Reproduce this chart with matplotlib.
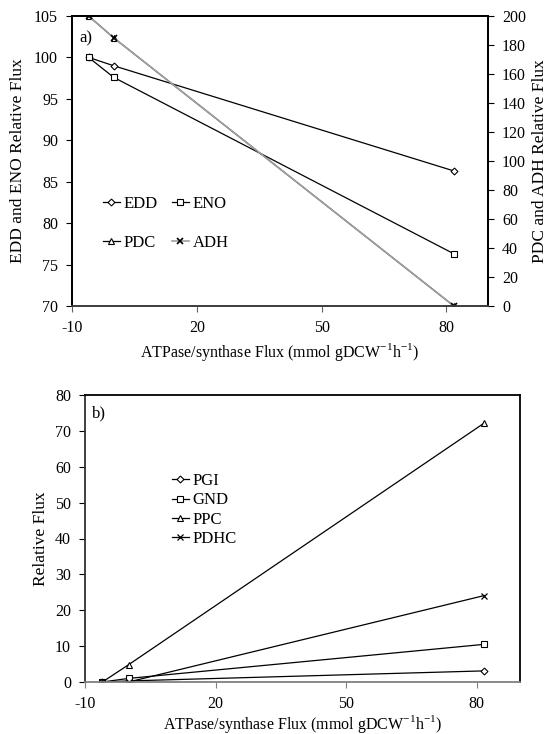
import matplotlib.pyplot as plt

plt.rcParams['font.family'] = ['Liberation Serif', 'DejaVu Serif']
plt.rcParams['font.size'] = 11.5
plt.rcParams['axes.unicode_minus'] = False

# ATPase/synthase flux (x values)
atp_flux = [-6, 0, 81.8]

# panel a
edd = [100, 99.0, 86.3]
eno = [100, 97.6, 76.3]
pdc = [200, 185, 0]
adh = [200, 185, 0]

# panel b
pgi = [0, 0.3, 3.1]
gnd = [0, 1.0, 10.5]
ppc = [0, 4.8, 72.2]
pdhc = [0, 0.0, 24.1]

xticks = [-10, 20, 50, 80]
xlab = 'ATPase/synthase Flux (mmol gDCW$^{\\mathregular{-1}}$h$^{\\mathregular{-1}}$)'

W, H = 551, 734
fig = plt.figure(figsize=(W / 100, H / 100), dpi=100)

mk = dict(markersize=4, markerfacecolor='white', markeredgewidth=0.8)
dmk = dict(mk, markersize=3.5)

# ---- panel a ----
ax = fig.add_axes([72 / W, 1 - 306 / H, 416 / W, 290 / H])
ax2 = ax.twinx()
l1, = ax.plot(atp_flux, edd, color='black', lw=0.9, marker='D', label='EDD', **dmk)
l2, = ax.plot(atp_flux, eno, color='black', lw=0.9, marker='s', label='ENO', **mk)
l3, = ax2.plot(atp_flux, pdc, color='black', lw=0.9, marker='^', label='PDC', **mk)
l4, = ax2.plot(atp_flux, adh, color='#a0a0a0', lw=1.2, marker='x', markeredgecolor='black',
               markersize=5, markeredgewidth=1.2, label='ADH')
ax.set_xlim(-10, 90)
ax.set_ylim(70, 105)
ax2.set_ylim(0, 200)
ax.set_xticks(xticks)
ax.set_yticks(range(70, 106, 5))
ax2.set_yticks(range(0, 201, 20))
ax.set_xlabel(xlab, fontsize=11.5)
ax.xaxis.set_label_coords(0.5, -0.12)
ax.set_ylabel('EDD and ENO Relative Flux', fontsize=12.5)
ax.yaxis.set_label_coords(-0.11, 0.5)
ax2.set_ylabel('PDC and ADH Relative Flux', fontsize=12.5)
ax2.yaxis.set_label_coords(1.105, 0.5)
fig.text(79 / W, 1 - 38 / H, 'a)', fontsize=12, va='center')
for a in (ax, ax2):
    a.tick_params(axis='y', direction='out', length=4, width=0.8, pad=6)
    a.tick_params(axis='x', direction='out', length=4, width=0.8, pad=6, color='#606060')
    for s in a.spines.values():
        s.set_linewidth(1.3)
    a.spines['bottom'].set_color('#404040')
ax.legend(handles=[l1, l3, l2, l4], ncol=2, loc='upper left',
          bbox_to_anchor=(103 / W, 1 - 196 / H), bbox_transform=fig.transFigure,
          frameon=False, borderpad=0, borderaxespad=0, handlelength=1.0,
          handletextpad=0.25, columnspacing=0.85, labelspacing=1.4, fontsize=12)

# ---- panel b ----
bx = fig.add_axes([85 / W, 1 - 682 / H, 435 / W, 287 / H])
bx.plot(atp_flux, pgi, color='black', lw=0.9, marker='D', label='PGI', **dmk)
bx.plot(atp_flux, gnd, color='black', lw=0.9, marker='s', label='GND', **mk)
bx.plot(atp_flux, ppc, color='black', lw=0.9, marker='^', label='PPC', **mk)
bx.plot(atp_flux, pdhc, color='black', lw=0.9, marker='x', label='PDHC', markersize=5,
        markeredgewidth=0.9)
bx.set_xlim(-10, 90)
bx.set_ylim(0, 80)
bx.set_xticks(xticks)
bx.set_yticks(range(0, 81, 10))
bx.set_xlabel(xlab, fontsize=11.5)
bx.xaxis.set_label_coords(0.5, -0.108)
bx.set_ylabel('Relative Flux', fontsize=12.5)
bx.yaxis.set_label_coords(-0.082, 0.5)
fig.text(92 / W, 1 - 413 / H, 'b)', fontsize=12, va='center')
bx.tick_params(axis='y', direction='out', length=4, width=0.8, pad=6)
bx.tick_params(axis='x', direction='out', length=4, width=0.8, pad=6, color='#808080')
for s in bx.spines.values():
    s.set_linewidth(1.3)
bx.spines['bottom'].set_color('#808080')
bx.spines['left'].set_color('#303030')
bx.legend(loc='upper left', bbox_to_anchor=(172 / W, 1 - 473 / H), bbox_transform=fig.transFigure,
          frameon=False, borderpad=0, borderaxespad=0, handlelength=1.0,
          handletextpad=0.25, labelspacing=0.2, fontsize=12)

fig.savefig('out.png', dpi=100)
